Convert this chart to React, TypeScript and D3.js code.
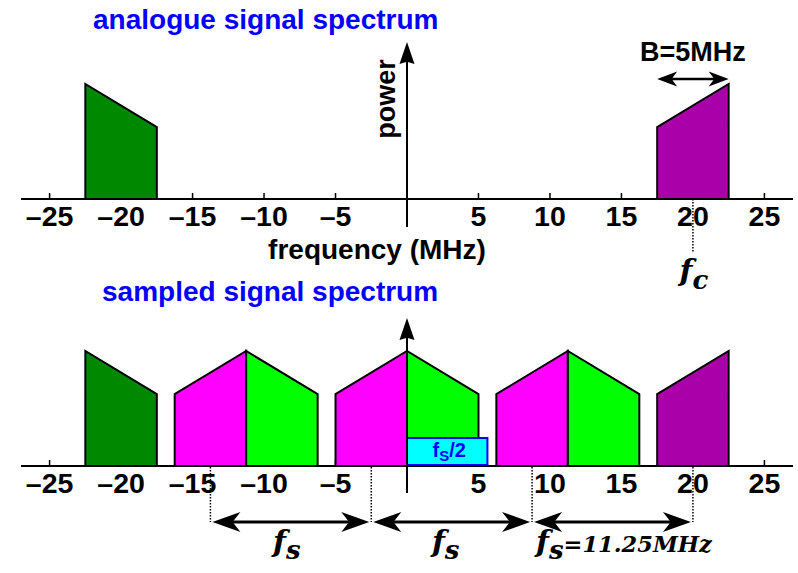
import React from "react";
import * as d3 from "d3";

// Signal parameters (MHz)
const carrierFreq = 20;
const bandwidth = 5;
const sampleRate = 11.25;

// Relative power at the band edges: outer edge (peak) and inner edge (shoulder)
const edgePower = [1, 0.625];

// Original band edges
const negBandFreqs = [-22.5, -17.5];
const negBandPower = [1, 0.625];
const posBandFreqs = [17.5, 22.5];
const posBandPower = [0.625, 1];

// Spectral images created by sampling (multiples of fs)
const posImageShifts = [-3, -2, -1];
const negImageShifts = [1, 2, 3];

// Axis ticks
const tickValues = [-25, -20, -15, -10, -5, 5, 10, 15, 20, 25];
const tickLabels = ["\u201325", "\u201320", "\u201315", "\u201310", "\u20135", "5", "10", "15", "20", "25"];

// Spacing markers along the sampled axis
const fsMarkers = [-13.75, -2.5, 8.75, 20];

const W = 798;
const H = 573;

const SANS = "'Liberation Sans', Arial, Helvetica, sans-serif";
const SERIF = "'DejaVu Serif', 'Liberation Serif', serif";

const C_DARKGREEN = "#008800";
const C_PURPLE = "#aa00aa";
const C_MAGENTA = "#ff00ff";
const C_GREEN = "#00ff00";

function bandPath(
  fx: d3.ScaleLinear<number, number>,
  fy: d3.ScaleLinear<number, number>,
  freqs: number[],
  power: number[]
) {
  const pts: [number, number][] = [
    [fx(freqs[0]), fy(0)],
    [fx(freqs[0]), fy(power[0])],
    [fx(freqs[1]), fy(power[1])],
    [fx(freqs[1]), fy(0)],
  ];
  return d3.line()(pts) + "Z";
}

// Notched arrowhead pointing in direction (dx, dy) with its tip at (x, y)
function arrowHead(x: number, y: number, dx: number, dy: number, len: number, half: number, notch = 0.72) {
  const px = -dy;
  const py = dx;
  const bx = x - dx * len;
  const by = y - dy * len;
  const nx = x - dx * len * notch;
  const ny = y - dy * len * notch;
  return `M${x},${y}L${bx + px * half},${by + py * half}L${nx},${ny}L${bx - px * half},${by - py * half}Z`;
}

function Axis({ fx, y0 }: { fx: d3.ScaleLinear<number, number>; y0: number }) {
  const [r0, r1] = fx.range();
  return (
    <g>
      <line x1={r0} x2={r1} y1={y0} y2={y0} stroke="#000" strokeWidth={2} />
      {tickValues.map((t) => (
        <line key={t} x1={fx(t)} x2={fx(t)} y1={y0} y2={y0 - 6} stroke="#000" strokeWidth={1.5} />
      ))}
    </g>
  );
}

function TickLabels({ fx, y0 }: { fx: d3.ScaleLinear<number, number>; y0: number }) {
  return (
    <g fontFamily={SANS} fontWeight="bold" fontSize={28.5} textAnchor="middle" fill="#000">
      {tickValues.map((t, i) => (
        <text key={t} x={fx(t)} y={y0 + 26.5}>
          {tickLabels[i]}
        </text>
      ))}
    </g>
  );
}

export default function App() {
  const x = d3.scaleLinear().domain([-27, 27]).range([21, 793]);
  const yTop = d3.scaleLinear().domain([0, edgePower[0]]).range([199, 84]);
  const yBot = d3.scaleLinear().domain([0, edgePower[0]]).range([466, 351]);

  const topAxisY = yTop(0);
  const botAxisY = yBot(0);
  const x0 = x(0);

  const shift = (f: number[], k: number) => f.map((v) => v + k * sampleRate);

  const bArrowY = 79;
  const fsArrowY = 522;

  return (
    <svg width={W} height={H} style={{ position: "absolute", left: 0, top: 0, background: "#fff" }}>
      <rect x={0} y={0} width={W} height={H} fill="#fff" />

      {/* ---------- analogue spectrum ---------- */}
      <text x={93} y={29} fontFamily={SANS} fontWeight="bold" fontSize={28} fill="#0000ff">
        analogue signal spectrum
      </text>

      <Axis fx={x} y0={topAxisY} />
      <path d={bandPath(x, yTop, negBandFreqs, negBandPower)} fill={C_DARKGREEN} stroke="#000" strokeWidth={2} />
      <path d={bandPath(x, yTop, posBandFreqs, posBandPower)} fill={C_PURPLE} stroke="#000" strokeWidth={2} />
      <TickLabels fx={x} y0={topAxisY} />

      {/* power axis */}
      <line x1={x0} x2={x0} y1={topAxisY + 28} y2={60} stroke="#000" strokeWidth={2} />
      <path d={arrowHead(x0, 42, 0, -1, 22, 7.5, 0.9)} fill="#000" />
      <text
        transform={`translate(395,99) rotate(-90)`}
        fontFamily={SANS}
        fontWeight="bold"
        fontSize={27}
        textAnchor="middle"
        fill="#000"
      >
        power
      </text>

      <text x={x0 - 30} y={259} fontFamily={SANS} fontWeight="bold" fontSize={28} textAnchor="middle" fill="#000">
        frequency (MHz)
      </text>

      {/* bandwidth marker */}
      <text x={x(carrierFreq)} y={61} fontFamily={SANS} fontWeight="bold" fontSize={27} textAnchor="middle" fill="#000">
        B=5MHz
      </text>
      <line
        x1={x(carrierFreq - bandwidth / 2) + 10}
        x2={x(carrierFreq + bandwidth / 2) - 10}
        y1={bArrowY}
        y2={bArrowY}
        stroke="#000"
        strokeWidth={2.5}
      />
      <path d={arrowHead(x(carrierFreq - bandwidth / 2), bArrowY, -1, 0, 20, 7.5)} fill="#000" />
      <path d={arrowHead(x(carrierFreq + bandwidth / 2), bArrowY, 1, 0, 20, 7.5)} fill="#000" />

      {/* carrier marker */}
      <line x1={x(carrierFreq)} x2={x(carrierFreq)} y1={topAxisY} y2={253} stroke="#000" strokeWidth={1.5} strokeDasharray="1.5,1.5" />
      <text x={x(carrierFreq) + 1} y={281} fontFamily={SERIF} fontWeight="bold" fontStyle="italic" fontSize={30} textAnchor="middle" fill="#000">
        f<tspan dy={8} fontSize={26}>c</tspan>
      </text>

      {/* ---------- sampled spectrum ---------- */}
      <text x={102} y={301} fontFamily={SANS} fontWeight="bold" fontSize={28} fill="#0000ff">
        sampled signal spectrum
      </text>

      <Axis fx={x} y0={botAxisY} />
      <path d={bandPath(x, yBot, negBandFreqs, negBandPower)} fill={C_DARKGREEN} stroke="#000" strokeWidth={2} />
      <path d={bandPath(x, yBot, posBandFreqs, posBandPower)} fill={C_PURPLE} stroke="#000" strokeWidth={2} />
      {posImageShifts.map((k) => (
        <path key={"p" + k} d={bandPath(x, yBot, shift(posBandFreqs, k), posBandPower)} fill={C_MAGENTA} stroke="#000" strokeWidth={2} />
      ))}
      {negImageShifts.map((k) => (
        <path key={"n" + k} d={bandPath(x, yBot, shift(negBandFreqs, k), negBandPower)} fill={C_GREEN} stroke="#000" strokeWidth={2} />
      ))}
      <TickLabels fx={x} y0={botAxisY} />

      {/* fs/2 box */}
      <rect
        x={x(0)}
        y={botAxisY - 28}
        width={x(sampleRate / 2) - x(0)}
        height={27}
        fill="#00ffff"
        stroke="#0000ff"
        strokeWidth={2}
      />
      <text x={(x(0) + x(sampleRate / 2)) / 2 + 2} y={botAxisY - 9} fontFamily={SANS} fontWeight="bold" fontSize={20} textAnchor="middle" fill="#0000ff">
        f<tspan dy={4} fontSize={15}>S</tspan>
        <tspan dy={-4}>/2</tspan>
      </text>

      {/* vertical axis of sampled spectrum */}
      <line x1={x0} x2={x0} y1={botAxisY + 27} y2={336} stroke="#000" strokeWidth={2} />
      <path d={arrowHead(x0, 318, 0, -1, 22, 7.5, 0.9)} fill="#000" />

      {/* fs spacing markers */}
      {fsMarkers.map((f) => (
        <line key={"d" + f} x1={x(f)} x2={x(f)} y1={botAxisY + 1} y2={fsArrowY} stroke="#000" strokeWidth={1.5} strokeDasharray="1.5,1.5" />
      ))}
      {fsMarkers.slice(0, -1).map((f, i) => {
        const xa = x(f) + 2;
        const xb = x(fsMarkers[i + 1]) - 2;
        return (
          <g key={"a" + f}>
            <line x1={xa + 15} x2={xb - 15} y1={fsArrowY} y2={fsArrowY} stroke="#000" strokeWidth={3} />
            <path d={arrowHead(xa, fsArrowY, -1, 0, 28, 10)} fill="#000" />
            <path d={arrowHead(xb, fsArrowY, 1, 0, 28, 10)} fill="#000" />
          </g>
        );
      })}
      <g fontFamily={SERIF} fontWeight="bold" fontStyle="italic" fill="#000">
        <text x={(x(fsMarkers[0]) + x(fsMarkers[1])) / 2 - 4} y={552} fontSize={30} textAnchor="middle">
          f<tspan dy={7} fontSize={26}>s</tspan>
        </text>
        <text x={(x(fsMarkers[1]) + x(fsMarkers[2])) / 2 - 6} y={552} fontSize={30} textAnchor="middle">
          f<tspan dy={7} fontSize={26}>s</tspan>
        </text>
        <text x={536} y={552} fontSize={30}>
          f<tspan dy={7} fontSize={26}>s</tspan>
          <tspan dy={-7} fontSize={22.5}>={sampleRate}MHz</tspan>
        </text>
      </g>
    </svg>
  );
}
